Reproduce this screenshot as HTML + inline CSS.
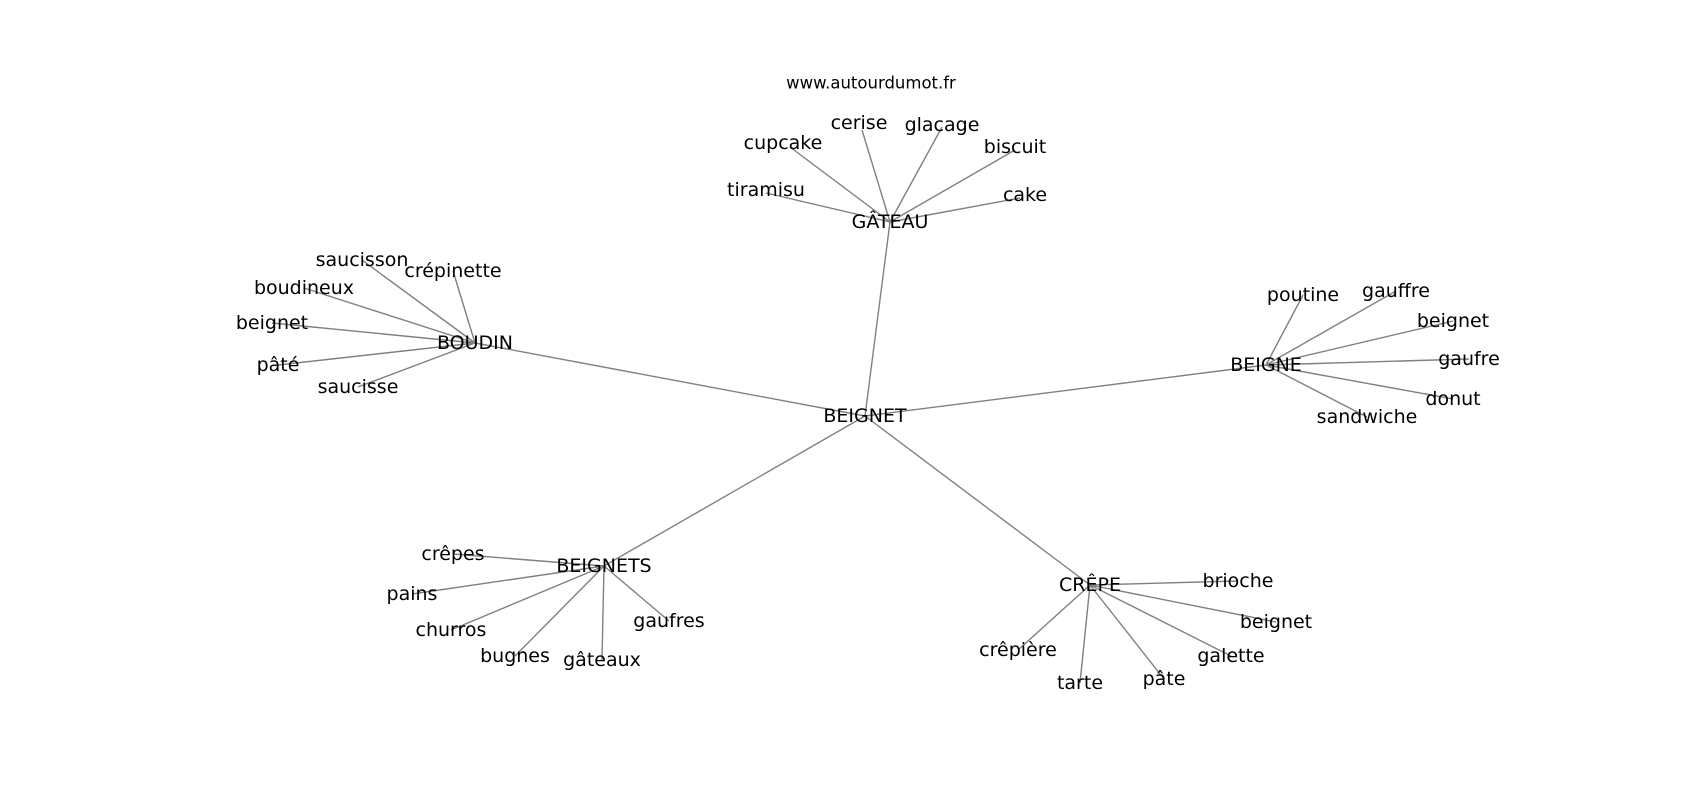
<!DOCTYPE html>
<html><head><meta charset="utf-8"><style>html,body{margin:0;padding:0;background:#fff}svg{display:block}</style></head>
<body>
<svg width="1700" height="800" xmlns="http://www.w3.org/2000/svg" font-family="DejaVu Sans, Liberation Sans, sans-serif">
<g stroke="#808080" stroke-width="1.4">
<line x1="865" y1="416" x2="890" y2="222"/>
<line x1="865" y1="416" x2="475" y2="343"/>
<line x1="865" y1="416" x2="1266" y2="365"/>
<line x1="865" y1="416" x2="604" y2="566"/>
<line x1="865" y1="416" x2="1090" y2="585"/>
<line x1="890" y1="222" x2="790" y2="147"/>
<line x1="890" y1="222" x2="862" y2="130"/>
<line x1="890" y1="222" x2="942" y2="127"/>
<line x1="890" y1="222" x2="1015" y2="150"/>
<line x1="890" y1="222" x2="766" y2="193"/>
<line x1="890" y1="222" x2="1020" y2="198"/>
<line x1="475" y1="343" x2="362" y2="260"/>
<line x1="475" y1="343" x2="453" y2="271"/>
<line x1="475" y1="343" x2="304" y2="288"/>
<line x1="475" y1="343" x2="272" y2="323"/>
<line x1="475" y1="343" x2="278" y2="365"/>
<line x1="475" y1="343" x2="358" y2="387"/>
<line x1="1266" y1="365" x2="1303" y2="295"/>
<line x1="1266" y1="365" x2="1396" y2="291"/>
<line x1="1266" y1="365" x2="1453" y2="321"/>
<line x1="1266" y1="365" x2="1469" y2="359"/>
<line x1="1266" y1="365" x2="1453" y2="399"/>
<line x1="1266" y1="365" x2="1367" y2="417"/>
<line x1="604" y1="566" x2="453" y2="554"/>
<line x1="604" y1="566" x2="412" y2="594"/>
<line x1="604" y1="566" x2="451" y2="630"/>
<line x1="604" y1="566" x2="515" y2="656"/>
<line x1="604" y1="566" x2="602" y2="660"/>
<line x1="604" y1="566" x2="669" y2="621"/>
<line x1="1090" y1="585" x2="1238" y2="581"/>
<line x1="1090" y1="585" x2="1276" y2="622"/>
<line x1="1090" y1="585" x2="1231" y2="656"/>
<line x1="1090" y1="585" x2="1164" y2="679"/>
<line x1="1090" y1="585" x2="1080" y2="683"/>
<line x1="1090" y1="585" x2="1018" y2="650"/>
</g>
<text x="871" y="83" font-size="16.5" text-anchor="middle" dominant-baseline="central" fill="#000">www.autourdumot.fr</text>
<g font-size="19" text-anchor="middle" dominant-baseline="central" fill="#000">
<text x="865" y="416">BEIGNET</text>
<text x="890" y="222">GÂTEAU</text>
<text x="783" y="143">cupcake</text>
<text x="859" y="123">cerise</text>
<text x="942" y="125">glacage</text>
<text x="1015" y="147">biscuit</text>
<text x="766" y="190">tiramisu</text>
<text x="1025" y="195">cake</text>
<text x="475" y="343">BOUDIN</text>
<text x="362" y="260">saucisson</text>
<text x="453" y="271">crépinette</text>
<text x="304" y="288">boudineux</text>
<text x="272" y="323">beignet</text>
<text x="278" y="365">pâté</text>
<text x="358" y="387">saucisse</text>
<text x="1266" y="365">BEIGNE</text>
<text x="1303" y="295">poutine</text>
<text x="1396" y="291">gauffre</text>
<text x="1453" y="321">beignet</text>
<text x="1469" y="359">gaufre</text>
<text x="1453" y="399">donut</text>
<text x="1367" y="417">sandwiche</text>
<text x="604" y="566">BEIGNETS</text>
<text x="453" y="554">crêpes</text>
<text x="412" y="594">pains</text>
<text x="451" y="630">churros</text>
<text x="515" y="656">bugnes</text>
<text x="602" y="660">gâteaux</text>
<text x="669" y="621">gaufres</text>
<text x="1090" y="585">CRÊPE</text>
<text x="1238" y="581">brioche</text>
<text x="1276" y="622">beignet</text>
<text x="1231" y="656">galette</text>
<text x="1164" y="679">pâte</text>
<text x="1080" y="683">tarte</text>
<text x="1018" y="650">crêpière</text>
</g>
</svg>
</body></html>
